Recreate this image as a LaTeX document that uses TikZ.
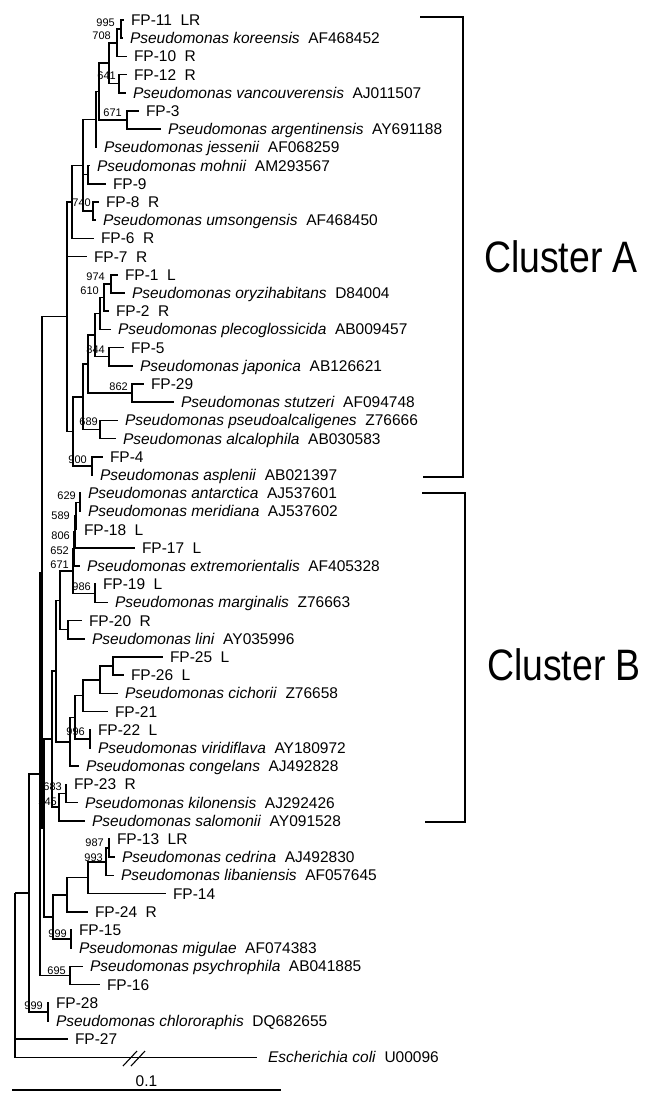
\documentclass[tikz,border=0pt]{standalone}
\usepackage{fontspec}
\setmainfont{Liberation Sans}
\usepackage{graphicx}
\usetikzlibrary{calc,positioning}
\newcommand{\sgap}{\hspace{0.55em}}
\newcommand{\pspec}[2]{\textit{Pseudomonas #1}\sgap #2}

\begin{document}
\begin{tikzpicture}[
  x=1pt, y=-1pt,
  branch/.style={line width=1.5pt},
  leaf/.style={
    anchor=west,
    inner xsep=7pt,
    inner ysep=0pt,
    outer sep=0pt,
    text height=11pt,
    text depth=0pt,
    font=\fontsize{15.5}{18}\selectfont
    },
  boot/.style={anchor=east, inner sep=0pt, text height=8pt, text depth=0pt,
    font=\fontsize{11}{12}\selectfont},
  bracket/.style={line width=1.1pt},
  cluster/.style={font=\fontsize{44}{50}\selectfont, inner sep=0pt}
]
\useasboundingbox (0,0) rectangle (652,1106);

% leaves, top to bottom
\node [leaf] (fp11) at (124,20) {FP-11\sgap LR};
\node [leaf] (koreensis) at (123,38.2) {\pspec{koreensis}{AF468452}};
\node [leaf] (fp10) at (127,56.4) {FP-10\sgap R};
\node [leaf] (fp12) at (127,74.6) {FP-12\sgap R};
\node [leaf] (vancouverensis) at (126,92.8) {\pspec{vancouverensis}{AJ011507}};
\node [leaf] (fp3) at (139,111) {FP-3};
\node [leaf] (argentinensis) at (161,129.2) {\pspec{argentinensis}{AY691188}};
\node [leaf] (jessenii) at (97,147.4) {\pspec{jessenii}{AF068259}};
\node [leaf] (mohnii) at (90,165.6) {\pspec{mohnii}{AM293567}};
\node [leaf] (fp9) at (106,183.8) {FP-9};
\node [leaf] (fp8) at (99,202) {FP-8\sgap R};
\node [leaf] (umsongensis) at (96,220.2) {\pspec{umsongensis}{AF468450}};
\node [leaf] (fp6) at (94,238.4) {FP-6\sgap R};
\node [leaf] (fp7) at (87,256.6) {FP-7\sgap R};
\node [leaf] (fp1) at (118,274.8) {FP-1\sgap L};
\node [leaf] (oryzihabitans) at (125,293) {\pspec{oryzihabitans}{D84004}};
\node [leaf] (fp2) at (109,311.2) {FP-2\sgap R};
\node [leaf] (plecoglossicida) at (111,329.4) {\pspec{plecoglossicida}{AB009457}};
\node [leaf] (fp5) at (124,347.6) {FP-5};
\node [leaf] (japonica) at (133,365.8) {\pspec{japonica}{AB126621}};
\node [leaf] (fp29) at (144,384) {FP-29};
\node [leaf] (stutzeri) at (174,402.2) {\pspec{stutzeri}{AF094748}};
\node [leaf] (pseudoalcaligenes) at (118,420.4) {\pspec{pseudoalcaligenes}{Z76666}};
\node [leaf] (alcalophila) at (116,438.6) {\pspec{alcalophila}{AB030583}};
\node [leaf] (fp4) at (103,456.8) {FP-4};
\node [leaf] (asplenii) at (93,475) {\pspec{asplenii}{AB021397}};
\node [leaf] (antarctica) at (81,493.2) {\pspec{antarctica}{AJ537601}};
\node [leaf] (meridiana) at (81,511.4) {\pspec{meridiana}{AJ537602}};
\node [leaf] (fp18) at (77,529.6) {FP-18\sgap L};
\node [leaf] (fp17) at (135,547.8) {FP-17\sgap L};
\node [leaf] (extremorientalis) at (80,566) {\pspec{extremorientalis}{AF405328}};
\node [leaf] (fp19) at (96,584.2) {FP-19\sgap L};
\node [leaf] (marginalis) at (108,602.4) {\pspec{marginalis}{Z76663}};
\node [leaf] (fp20) at (82,620.6) {FP-20\sgap R};
\node [leaf] (lini) at (85,638.8) {\pspec{lini}{AY035996}};
\node [leaf] (fp25) at (163,657) {FP-25\sgap L};
\node [leaf] (fp26) at (124,675.2) {FP-26\sgap L};
\node [leaf] (cichorii) at (118,693.4) {\pspec{cichorii}{Z76658}};
\node [leaf] (fp21) at (108,711.6) {FP-21};
\node [leaf] (fp22) at (91,729.8) {FP-22\sgap L};
\node [leaf] (viridiflava) at (91,748) {\pspec{viridiflava}{AY180972}};
\node [leaf] (congelans) at (79,766.2) {\pspec{congelans}{AJ492828}};
\node [leaf] (fp23) at (67,784.4) {FP-23\sgap R};
\node [leaf] (kilonensis) at (78,802.6) {\pspec{kilonensis}{AJ292426}};
\node [leaf] (salomonii) at (85,820.8) {\pspec{salomonii}{AY091528}};
\node [leaf] (fp13) at (110,839) {FP-13\sgap LR};
\node [leaf] (cedrina) at (115,857.2) {\pspec{cedrina}{AJ492830}};
\node [leaf] (libaniensis) at (114,875.4) {\pspec{libaniensis}{AF057645}};
\node [leaf] (fp14) at (166,893.6) {FP-14};
\node [leaf] (fp24) at (88,911.8) {FP-24\sgap R};
\node [leaf] (fp15) at (72,930) {FP-15};
\node [leaf] (migulae) at (72,948.2) {\pspec{migulae}{AF074383}};
\node [leaf] (psychrophila) at (83,966.4) {\pspec{psychrophila}{AB041885}};
\node [leaf] (fp16) at (100,984.6) {FP-16};
\node [leaf] (fp28) at (49,1002.8) {FP-28};
\node [leaf] (chlororaphis) at (49,1021) {\pspec{chlororaphis}{DQ682655}};
\node [leaf] (fp27) at (68,1039.2) {FP-27};
\node [leaf, inner xsep=11pt] (ecoli) at (257,1057.4) {\textit{Escherichia coli}\sgap U00096};

% inner nodes, cluster A
\coordinate (n995) at (121,29.1);
\coordinate (n708) at (117,42.75);
\coordinate (n641) at (119,83.7);
\coordinate (nA) at (109,63.2);
\coordinate (n671a) at (127,120.1);
\coordinate (nB) at (99,91.65);
\coordinate (nC) at (96,119.5);
\coordinate (nM) at (88,174.7);
\coordinate (n740) at (93,211.1);
\coordinate (nE) at (83,165.3);
\coordinate (nG) at (72,201.85);
\coordinate (n974) at (111,283.9);
\coordinate (n610) at (104,297.55);
\coordinate (nQ) at (100,313.5);
\coordinate (n844) at (109,356.7);
\coordinate (nP) at (95,335.1);
\coordinate (n862) at (132,393.1);
\coordinate (nJ) at (88,364.1);
\coordinate (n689) at (100,429.5);
\coordinate (nK) at (83,396.8);
\coordinate (n900) at (92,465.9);
\coordinate (nI) at (73,431.35);
\coordinate (nH) at (67,316.6);
% cluster B
\coordinate (n629) at (80,502.3);
\coordinate (n589) at (76,515.95);
\coordinate (n806) at (75,531.9);
\coordinate (n652) at (74,548.95);
\coordinate (n986) at (95,593.3);
\coordinate (n671b) at (73,571.1);
\coordinate (n20) at (68,629.7);
\coordinate (nV) at (60,600.4);
\coordinate (n2526) at (113,666.1);
\coordinate (nY) at (100,679.75);
\coordinate (nZ) at (83,695.7);
\coordinate (n996) at (90,738.9);
\coordinate (nAA) at (75,717.3);
\coordinate (nAB) at (70,741.75);
\coordinate (nW) at (56,671.1);
\coordinate (n683) at (66,793.5);
\coordinate (n545) at (59,807.15);
\coordinate (nAC) at (52,739.1);
% the rest
\coordinate (n987) at (109,848.1);
\coordinate (n993) at (106,861.75);
\coordinate (nAD) at (88,877.7);
\coordinate (nAE) at (67,894.75);
\coordinate (n999a) at (71,939.1);
\coordinate (nAF) at (53,916.9);
\coordinate (nAG) at (44,828);
\coordinate (nU) at (42,572.3);
\coordinate (n695) at (70,975.5);
\coordinate (nT) at (40,773.9);
\coordinate (n999b) at (48,1011.9);
\coordinate (nS) at (29,892.9);
\coordinate (root) at (15,892.9);

\draw [branch] (n995) |- (fp11.west) (n995) |- (koreensis.west);
\draw [branch] (n708) |- (n995) (n708) |- (fp10.west);
\draw [branch] (n641) |- (fp12.west) (n641) |- (vancouverensis.west);
\draw [branch] (nA) |- (n708) (nA) |- (n641);
\draw [branch] (n671a) |- (fp3.west) (n671a) |- (argentinensis.west);
\draw [branch] (nB) |- (nA) (nB) |- (n671a);
\draw [branch] (nC) |- (nB) (nC) |- (jessenii.west);
\draw [branch] (nM) |- (mohnii.west) (nM) |- (fp9.west);
\draw [branch] (n740) |- (fp8.west) (n740) |- (umsongensis.west);
\draw [branch] (nE) |- (nC) (nE) |- (nM) (nE) |- (n740);
\draw [branch] (nG) |- (nE) (nG) |- (fp6.west);
\draw [branch] (n974) |- (fp1.west) (n974) |- (oryzihabitans.west);
\draw [branch] (n610) |- (n974) (n610) |- (fp2.west);
\draw [branch] (nQ) |- (n610) (nQ) |- (plecoglossicida.west);
\draw [branch] (n844) |- (fp5.west) (n844) |- (japonica.west);
\draw [branch] (nP) |- (nQ) (nP) |- (n844);
\draw [branch] (n862) |- (fp29.west) (n862) |- (stutzeri.west);
\draw [branch] (nJ) |- (nP) (nJ) |- (n862);
\draw [branch] (n689) |- (pseudoalcaligenes.west) (n689) |- (alcalophila.west);
\draw [branch] (nK) |- (nJ) (nK) |- (n689);
\draw [branch] (n900) |- (fp4.west) (n900) |- (asplenii.west);
\draw [branch] (nI) |- (nK) (nI) |- (n900);
\draw [branch] (nH) |- (nG) (nH) |- (fp7.west) (nH) |- (nI);

\draw [branch] (n629) |- (antarctica.west) (n629) |- (meridiana.west);
\draw [branch] (n589) |- (n629) (n589) |- (fp18.west);
\draw [branch] (n806) |- (n589) (n806) |- (fp17.west);
\draw [branch] (n652) |- (n806) (n652) |- (extremorientalis.west);
\draw [branch] (n986) |- (fp19.west) (n986) |- (marginalis.west);
\draw [branch] (n671b) |- (n652) (n671b) |- (n986);
\draw [branch] (n20) |- (fp20.west) (n20) |- (lini.west);
\draw [branch] (nV) |- (n671b) (nV) |- (n20);
\draw [branch] (n2526) |- (fp25.west) (n2526) |- (fp26.west);
\draw [branch] (nY) |- (n2526) (nY) |- (cichorii.west);
\draw [branch] (nZ) |- (nY) (nZ) |- (fp21.west);
\draw [branch] (n996) |- (fp22.west) (n996) |- (viridiflava.west);
\draw [branch] (nAA) |- (nZ) (nAA) |- (n996);
\draw [branch] (nAB) |- (nAA) (nAB) |- (congelans.west);
\draw [branch] (nW) |- (nV) (nW) |- (nAB);
\draw [branch] (n683) |- (fp23.west) (n683) |- (kilonensis.west);
\draw [branch] (n545) |- (n683) (n545) |- (salomonii.west);
\draw [branch] (nAC) |- (nW) (nAC) |- (n545);

\draw [branch] (n987) |- (fp13.west) (n987) |- (cedrina.west);
\draw [branch] (n993) |- (n987) (n993) |- (libaniensis.west);
\draw [branch] (nAD) |- (n993) (nAD) |- (fp14.west);
\draw [branch] (nAE) |- (nAD) (nAE) |- (fp24.west);
\draw [branch] (n999a) |- (fp15.west) (n999a) |- (migulae.west);
\draw [branch] (nAF) |- (nAE) (nAF) |- (n999a);
\draw [branch] (nAG) |- (nAC) (nAG) |- (nAF);
\draw [branch] (nU) |- (nH) (nU) |- (nAG);
\draw [branch] (n695) |- (psychrophila.west) (n695) |- (fp16.west);
\draw [branch] (nT) |- (nU) (nT) |- (n695);
\draw [branch] (n999b) |- (fp28.west) (n999b) |- (chlororaphis.west);
\draw [branch] (nS) |- (nT) (nS) |- (n999b);
\draw [branch] (root) |- (nS) (root) |- (fp27.west) (root) |- (ecoli.west);

% break on the outgroup branch
\draw [line width=1.1pt] (123,1066) -- (137,1051) (131,1066) -- (145,1051);

% bootstrap values
\node [boot] (b995) at (115,22) {995};
\node [boot] (b708) at (111,35) {708};
\node [boot] (b641) at (116,75) {641};
\node [boot] (b671a) at (122,112) {671};
\node [boot] (b740) at (91,202) {740};
\node [boot] (b974) at (105,276) {974};
\node [boot] (b610) at (99,290) {610};
\node [boot] (b844) at (105,349) {844};
\node [boot] (b862) at (128,386) {862};
\node [boot] (b689) at (98,421) {689};
\node [boot] (b900) at (87,459) {900};
\node [boot] (b629) at (76,495) {629};
\node [boot] (b589) at (70,515) {589};
\node [boot] (b806) at (70,535) {806};
\node [boot] (b652) at (69,550) {652};
\node [boot] (b671b) at (69,564) {671};
\node [boot] (b986) at (91,586) {986};
\node [boot] (b996) at (85,731) {996};
\node [boot] (b683) at (62,786) {683};
\node [boot] (b545) at (57,801) {545};
\node [boot] (b987) at (104,842) {987};
\node [boot] (b993) at (103,857) {993};
\node [boot] (b999a) at (67,933) {999};
\node [boot] (b695) at (66,970) {695};
\node [boot] (b999b) at (43,1005) {999};

% clusters
\draw [bracket] (420,17) -| (463,477) -- (423,477);
\draw [bracket] (422,493) -| (465,822) -- (425,822);
\node [cluster] (clusterA) at (561,257) {\scalebox{0.85}[1]{Cluster A}};
\node [cluster] (clusterB) at (564,665) {\scalebox{0.85}[1]{Cluster B}};

% scale bar
\coordinate (barL) at (12,1090);
\coordinate (barR) at (281,1090);
\draw [branch] (barL) -- (barR);
\node [above=3pt, inner sep=0pt, text depth=0pt, font=\fontsize{15.5}{18}\selectfont]
  (barlabel) at ($(barL)!.5!(barR)$) {0.1};

\end{tikzpicture}
\end{document}
